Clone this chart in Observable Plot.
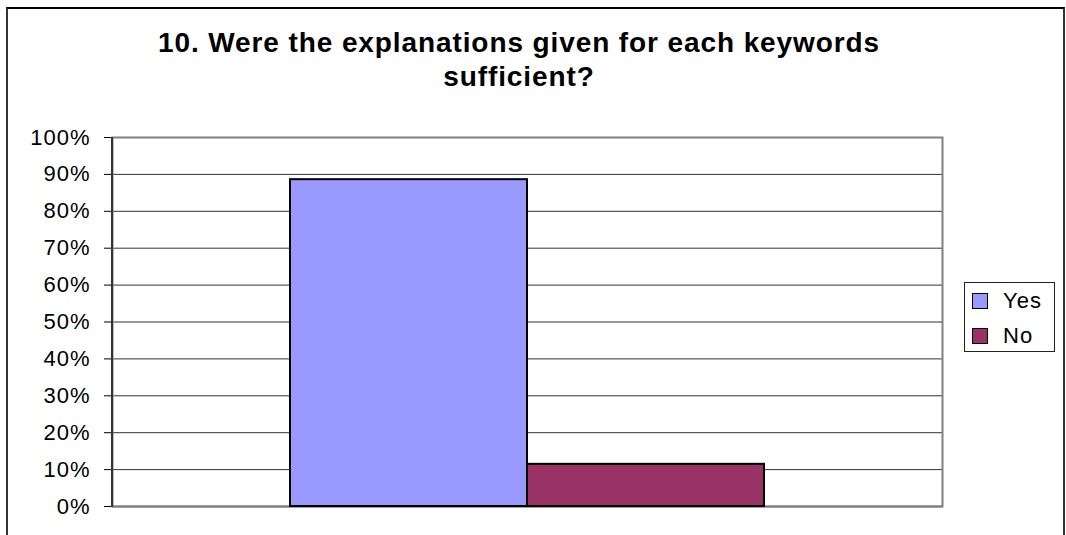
<!DOCTYPE html>
<html>
<head>
<meta charset="utf-8">
<script src="https://cdn.jsdelivr.net/npm/d3@7"></script>
<script src="https://cdn.jsdelivr.net/npm/@observablehq/plot@0.6"></script>
<style>
  html, body { margin: 0; padding: 0; background: #fff; overflow: hidden; }
  #chart { position: relative; width: 1066px; height: 535px; overflow: hidden;
           font-family: "Liberation Sans", Arial, sans-serif; }
  #border { position: absolute; left: 6px; top: 7px; width: 1055px; height: 600px;
            border-top: 2px solid #000; border-left: 2px solid #333; border-right: 2px solid #333; }
  #plot { position: absolute; left: 0; top: 0; }
  #title { position: absolute; left: 0; top: 26px; width: 1038px; text-align: center;
           font-weight: bold; font-size: 28px; line-height: 34px; letter-spacing: 0.9px; color: #000; }
  #legend { position: absolute; left: 964px; top: 282px; width: 89px; height: 68px;
            border: 1px solid #222; background: #fff; }
  .item { position: absolute; left: 7px; height: 18px; }
  .sw { position: absolute; left: 0; top: 0; width: 14px; height: 14px; border: 1.5px solid #000; }
  .lbl { position: absolute; left: 31px; top: -5px; font-size: 22px; letter-spacing: 1px;
         line-height: 26px; color: #000; white-space: nowrap; }
</style>
</head>
<body>
<div id="chart">
  <div id="border"></div>
  <div id="plot"></div>
  <div id="title"></div>
  <div id="legend"></div>
</div>
<script>
// Survey question 10: share of answers
const titleLines = ["10. Were the explanations given for each keywords", "sufficient?"];
const answers = ["Yes", "No"];
const shares = [0.8857, 0.1143];
const answerColors = ["#9999FF", "#993366"];
const yTicks = [0, 0.1, 0.2, 0.3, 0.4, 0.5, 0.6, 0.7, 0.8, 0.9, 1];

const rows = answers.map((a, i) => ({answer: a, share: shares[i]}));

// Title
document.getElementById("title").innerHTML = titleLines.join("<br>");

const chart = Plot.plot({
  width: 1066,
  height: 535,
  marginLeft: 112,
  marginRight: 124,
  marginTop: 137,
  marginBottom: 29,
  style: {fontFamily: "'Liberation Sans', Arial, sans-serif", fontSize: "22px", background: "transparent", color: "#000"},
  x: {type: "band", domain: answers, paddingInner: 0, paddingOuter: 0.744, axis: null},
  y: {domain: [0, 1]},
  color: {domain: answers, range: answerColors},
  marks: [
    Plot.gridY(yTicks, {stroke: "#333", strokeOpacity: 1, strokeWidth: 1}),
    Plot.frame({stroke: "#808080", strokeWidth: 2}),
    Plot.axisY(yTicks, {
      tickFormat: d => Math.round(d * 100) + "%",
      tickSize: 8,
      tickPadding: 14,
      fontSize: 22,
      label: null
    }),
    Plot.ruleY([0], {stroke: "#808080", strokeWidth: 2}),
    Plot.barY(rows, {x: "answer", y: "share", fill: "answer", stroke: "#000", strokeWidth: 2})
  ]
});
chart.style.letterSpacing = "1px";
// Left axis line
d3.select(chart).append("line")
  .attr("x1", 112).attr("x2", 112).attr("y1", 137).attr("y2", 507)
  .attr("stroke", "#333").attr("stroke-width", 2);
document.getElementById("plot").appendChild(chart);

// Legend
const legend = document.getElementById("legend");
answers.forEach((a, i) => {
  const item = document.createElement("div");
  item.className = "item";
  item.style.top = (10 + i * 35) + "px";
  const sw = document.createElement("div");
  sw.className = "sw";
  sw.style.background = answerColors[i];
  const lbl = document.createElement("div");
  lbl.className = "lbl";
  lbl.textContent = a;
  item.appendChild(sw);
  item.appendChild(lbl);
  legend.appendChild(item);
});
</script>
</body>
</html>
